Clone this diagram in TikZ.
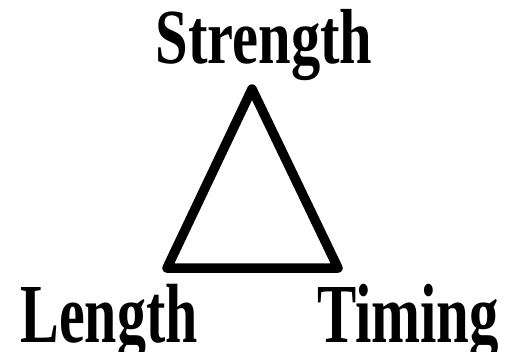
\documentclass[tikz,border=0pt]{standalone}
\usepackage{fontspec}
\setmainfont{Liberation Serif}
\usepackage{tikz}
\newcommand{\squeezed}[2]{\scalebox{#1}[1]{#2}}
\begin{document}
\begin{tikzpicture}[x=1pt, y=-1pt,
  label/.style={anchor=base, inner sep=0pt, font=\bfseries\fontsize{84}{84}\selectfont},
  edge/.style={line width=9.5pt, line join=round}]

\useasboundingbox[fill=white] (0,0) rectangle (510,351);

% labels at the three corners
\node[label, font=\bfseries\fontsize{78}{78}\selectfont] (strength) at (264,63) {\squeezed{0.75}{Strength}};
\node[label] (length) at (109,342) {\squeezed{0.69}{Length}};
\node[label] (timing) at (408,342) {\squeezed{0.70}{Timing}};

% the triangle
\coordinate (apex) at (252,89);
\coordinate (lcorner) at (167,268);
\coordinate (rcorner) at (338,268);
\draw[edge] (apex) -- (lcorner) -- (rcorner) -- cycle;

\end{tikzpicture}
\end{document}
